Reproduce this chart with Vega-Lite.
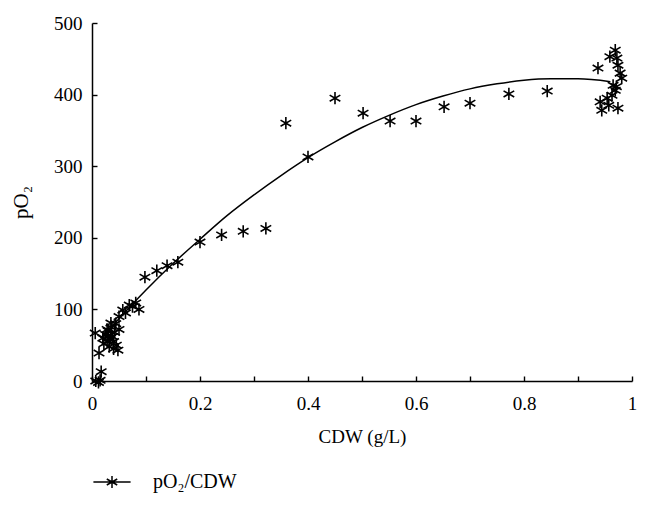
{
  "$schema": "https://vega.github.io/schema/vega-lite/v6.json",
  "width": 540,
  "height": 358,
  "autosize": {"type": "none"},
  "padding": {"left": 92, "top": 23, "right": 16, "bottom": 124},
  "background": "white",
  "config": {
    "view": {"stroke": null},
    "font": "Liberation Serif",
    "axis": {
      "grid": false,
      "domainColor": "black",
      "domainWidth": 1.5,
      "tickColor": "black",
      "tickWidth": 1.4,
      "tickSize": -5,
      "labelFont": "Liberation Serif",
      "labelFontSize": 19,
      "labelColor": "black",
      "titleFont": "Liberation Serif",
      "titleFontSize": 19,
      "titleFontWeight": "normal",
      "titleColor": "black"
    }
  },
  "datasets": {
    "points": [
      {"cdw": 0.007, "po2": 0, "series": "pO₂/CDW"},
      {"cdw": 0.012, "po2": -2, "series": "pO₂/CDW"},
      {"cdw": 0.015, "po2": 1, "series": "pO₂/CDW"},
      {"cdw": 0.017, "po2": 13, "series": "pO₂/CDW"},
      {"cdw": 0.013, "po2": 39, "series": "pO₂/CDW"},
      {"cdw": 0.006, "po2": 67, "series": "pO₂/CDW"},
      {"cdw": 0.02, "po2": 60, "series": "pO₂/CDW"},
      {"cdw": 0.022, "po2": 52, "series": "pO₂/CDW"},
      {"cdw": 0.025, "po2": 65, "series": "pO₂/CDW"},
      {"cdw": 0.028, "po2": 55, "series": "pO₂/CDW"},
      {"cdw": 0.03, "po2": 70, "series": "pO₂/CDW"},
      {"cdw": 0.032, "po2": 48, "series": "pO₂/CDW"},
      {"cdw": 0.034, "po2": 60, "series": "pO₂/CDW"},
      {"cdw": 0.036, "po2": 75, "series": "pO₂/CDW"},
      {"cdw": 0.038, "po2": 62, "series": "pO₂/CDW"},
      {"cdw": 0.04, "po2": 55, "series": "pO₂/CDW"},
      {"cdw": 0.042, "po2": 68, "series": "pO₂/CDW"},
      {"cdw": 0.045, "po2": 50, "series": "pO₂/CDW"},
      {"cdw": 0.048, "po2": 43, "series": "pO₂/CDW"},
      {"cdw": 0.044, "po2": 80, "series": "pO₂/CDW"},
      {"cdw": 0.05, "po2": 72, "series": "pO₂/CDW"},
      {"cdw": 0.035, "po2": 81, "series": "pO₂/CDW"},
      {"cdw": 0.05, "po2": 90, "series": "pO₂/CDW"},
      {"cdw": 0.057, "po2": 99, "series": "pO₂/CDW"},
      {"cdw": 0.062, "po2": 95, "series": "pO₂/CDW"},
      {"cdw": 0.069, "po2": 106, "series": "pO₂/CDW"},
      {"cdw": 0.075, "po2": 104, "series": "pO₂/CDW"},
      {"cdw": 0.081, "po2": 109, "series": "pO₂/CDW"},
      {"cdw": 0.087, "po2": 100, "series": "pO₂/CDW"},
      {"cdw": 0.04, "po2": 45, "series": "pO₂/CDW"},
      {"cdw": 0.028, "po2": 72, "series": "pO₂/CDW"},
      {"cdw": 0.03, "po2": 62, "series": "pO₂/CDW"},
      {"cdw": 0.098, "po2": 145, "series": "pO₂/CDW"},
      {"cdw": 0.12, "po2": 154, "series": "pO₂/CDW"},
      {"cdw": 0.139, "po2": 161, "series": "pO₂/CDW"},
      {"cdw": 0.159, "po2": 166, "series": "pO₂/CDW"},
      {"cdw": 0.2, "po2": 194, "series": "pO₂/CDW"},
      {"cdw": 0.24, "po2": 204, "series": "pO₂/CDW"},
      {"cdw": 0.28, "po2": 209, "series": "pO₂/CDW"},
      {"cdw": 0.322, "po2": 213, "series": "pO₂/CDW"},
      {"cdw": 0.359, "po2": 360, "series": "pO₂/CDW"},
      {"cdw": 0.4, "po2": 313, "series": "pO₂/CDW"},
      {"cdw": 0.45, "po2": 395, "series": "pO₂/CDW"},
      {"cdw": 0.502, "po2": 374, "series": "pO₂/CDW"},
      {"cdw": 0.552, "po2": 363, "series": "pO₂/CDW"},
      {"cdw": 0.6, "po2": 363, "series": "pO₂/CDW"},
      {"cdw": 0.652, "po2": 383, "series": "pO₂/CDW"},
      {"cdw": 0.7, "po2": 388, "series": "pO₂/CDW"},
      {"cdw": 0.772, "po2": 401, "series": "pO₂/CDW"},
      {"cdw": 0.843, "po2": 405, "series": "pO₂/CDW"},
      {"cdw": 0.937, "po2": 437, "series": "pO₂/CDW"},
      {"cdw": 0.969, "po2": 462, "series": "pO₂/CDW"},
      {"cdw": 0.959, "po2": 453, "series": "pO₂/CDW"},
      {"cdw": 0.972, "po2": 451, "series": "pO₂/CDW"},
      {"cdw": 0.974, "po2": 441, "series": "pO₂/CDW"},
      {"cdw": 0.978, "po2": 430, "series": "pO₂/CDW"},
      {"cdw": 0.981, "po2": 423, "series": "pO₂/CDW"},
      {"cdw": 0.965, "po2": 413, "series": "pO₂/CDW"},
      {"cdw": 0.971, "po2": 411, "series": "pO₂/CDW"},
      {"cdw": 0.969, "po2": 406, "series": "pO₂/CDW"},
      {"cdw": 0.963, "po2": 399, "series": "pO₂/CDW"},
      {"cdw": 0.954, "po2": 395, "series": "pO₂/CDW"},
      {"cdw": 0.941, "po2": 390, "series": "pO₂/CDW"},
      {"cdw": 0.957, "po2": 385, "series": "pO₂/CDW"},
      {"cdw": 0.974, "po2": 381, "series": "pO₂/CDW"},
      {"cdw": 0.944, "po2": 378, "series": "pO₂/CDW"}
    ],
    "fit": [
      {"cdw": 0.02, "po2": 62},
      {"cdw": 0.05, "po2": 87},
      {"cdw": 0.1, "po2": 127},
      {"cdw": 0.15, "po2": 164},
      {"cdw": 0.2, "po2": 198},
      {"cdw": 0.25, "po2": 231},
      {"cdw": 0.3, "po2": 260},
      {"cdw": 0.35, "po2": 287},
      {"cdw": 0.4, "po2": 312},
      {"cdw": 0.45, "po2": 334},
      {"cdw": 0.5, "po2": 354},
      {"cdw": 0.55, "po2": 371},
      {"cdw": 0.6, "po2": 386},
      {"cdw": 0.65, "po2": 398},
      {"cdw": 0.7, "po2": 408},
      {"cdw": 0.75, "po2": 415},
      {"cdw": 0.8, "po2": 420},
      {"cdw": 0.85, "po2": 422},
      {"cdw": 0.9, "po2": 422},
      {"cdw": 0.96, "po2": 418}
    ]
  },
  "layer": [
    {
      "data": {"name": "fit"},
      "mark": {"type": "line", "color": "black", "strokeWidth": 1.5, "interpolate": "monotone", "clip": false},
      "encoding": {
        "x": {"field": "cdw", "type": "quantitative", "scale": {"domain": [0, 1], "nice": false},
          "axis": {"title": "CDW (g/L)", "values": [0, 0.1, 0.2, 0.3, 0.4, 0.5, 0.6, 0.7, 0.8, 0.9, 1],
            "labelExpr": "round(datum.value * 10) % 2 == 0 ? format(datum.value, '~g') : ''",
            "labelPadding": 18, "titlePadding": 14, "labelFlush": false}},
        "y": {"field": "po2", "type": "quantitative", "scale": {"domain": [0, 500], "nice": false},
          "axis": {"title": "pO₂", "titleFontSize": 21, "values": [0, 50, 100, 150, 200, 250, 300, 350, 400, 450, 500],
            "labelExpr": "datum.value % 100 == 0 ? datum.label : ''",
            "labelPadding": 15, "titlePadding": 22}}
      }
    },
    {
      "data": {"name": "points"},
      "mark": {"type": "point", "shape": "M0,-1L0,1M-0.87,-0.5L0.87,0.5M-0.87,0.5L0.87,-0.5", "size": 150, "filled": false, "strokeWidth": 1.6, "opacity": 1, "clip": false},
      "encoding": {
        "x": {"field": "cdw", "type": "quantitative"},
        "y": {"field": "po2", "type": "quantitative"},
        "color": {"field": "series", "type": "nominal", "scale": {"range": ["black"]},
          "legend": {"title": null, "orient": "none", "legendX": 10, "legendY": 449,
            "symbolType": "M-3.1,0L3.1,0M0,-1L0,1M-0.87,-0.5L0.87,0.5M-0.87,0.5L0.87,-0.5",
            "symbolSize": 144, "symbolStrokeWidth": 1.5, "symbolStrokeColor": "black",
            "labelFont": "Liberation Serif", "labelFontSize": 20, "labelColor": "black", "labelOffset": 31, "padding": 0}}
      }
    }
  ]
}
